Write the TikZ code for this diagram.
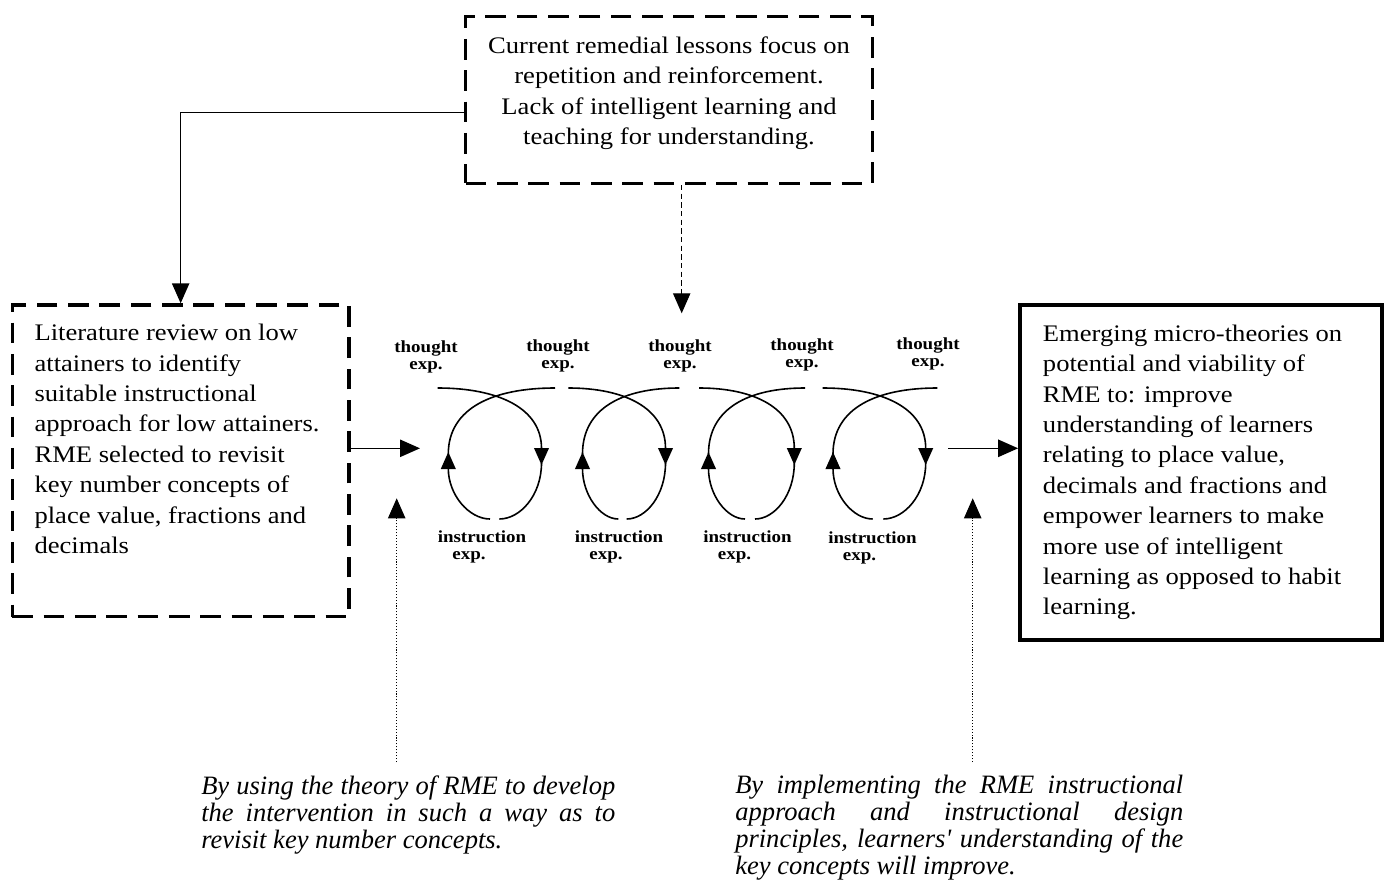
\documentclass[tikz,border=0pt]{standalone}
\usepackage{fontspec}
\setmainfont{Liberation Serif}
\newfontfamily\boxfont{Liberation Serif}[FakeStretch=1.12]
\usetikzlibrary{arrows.meta,fit}
\hyphenpenalty=10000
\exhyphenpenalty=10000
\newcommand\notefont{\itshape\fontsize{19.9pt}{20.25pt}\selectfont\lineskiplimit=-20pt\relax}
\begin{document}
\begin{tikzpicture}[x=0.75pt,y=-0.75pt,
  dbox/.style={draw, line width=2.6pt, dash pattern=on 15.5pt off 8pt, inner sep=0pt},
  sbox/.style={draw, line width=2.8pt, inner sep=0pt},
  boxtext/.style={inner sep=0pt, font=\boxfont\fontsize{17.8pt}{22.8pt}\selectfont},
  lab/.style={inner sep=0pt, align=center, font=\boxfont\bfseries\fontsize{12.7pt}{13.2pt}\selectfont},
  note/.style={inner sep=0pt, align=justify, font=\notefont},
  tip/.style={-{Triangle[length=15pt,width=13pt]}},
  conn/.style={tip, line width=1.1pt},
  loopline/.style={line width=1.2pt},
  looptip/.style={loopline, -{Triangle[length=12.75pt,width=11pt]}},
  dashconn/.style={tip, line width=0.8pt, dash pattern=on 4pt off 2.5pt},
  dotconn/.style={tip, line width=0.8pt, dash pattern=on 0.8pt off 1.4pt},
]
\useasboundingbox (0,0) rectangle (1388,888);

% boxes
\node[dbox, fit={(465.7,16.7) (872.6,183.3)}] (top) {};
\node[boxtext, align=center, anchor=north] (toptext) at (669,36.5)
  {Current remedial lessons focus on\\repetition and reinforcement.\\Lack of intelligent learning and\\teaching for understanding.};

\node[dbox, fit={(12.3,305) (349,616.7)}] (left) {};
\node[boxtext, align=left, anchor=north west] (lefttext) at (34.3,324)
  {Literature review on low\\attainers to identify\\suitable instructional\\approach for low attainers.\\RME selected to revisit\\key number concepts of\\place value, fractions and\\decimals};

\node[sbox, fit={(1020,305) (1381.7,640)}] (right) {};
\node[boxtext, align=left, anchor=north west] (righttext) at (1042.7,324.5)
  {Emerging micro-theories on\\potential and viability of\\RME to: improve\\understanding of learners\\relating to place value,\\decimals and fractions and\\empower learners to make\\more use of intelligent\\learning as opposed to habit\\learning.};

% notes
\node[note, text width=310.5pt, anchor=north west] (note1) at (201,776)
  {By using the theory of RME to develop\linebreak the intervention in such a way as to\linebreak revisit key number concepts.};
\node[note, text width=336pt, anchor=north west] (note2) at (735,775)
  {By implementing the RME instructional\linebreak approach and instructional design\linebreak principles, learners\textquotesingle{} understanding of the\linebreak key concepts will improve.};

% loop labels
\node[lab, anchor=north] (t1) at (426,340) {thought\\exp.};
\node[lab, anchor=north] (t2) at (558,339) {thought\\exp.};
\node[lab, anchor=north] (t3) at (680,339) {thought\\exp.};
\node[lab, anchor=north] (t4) at (802,338) {thought\\exp.};
\node[lab, anchor=north] (t5) at (928,337) {thought\\exp.};
\node[lab, anchor=north] (i1) at (482,530) {instruction\\exp.\rule{19.5pt}{0pt}};
\node[lab, anchor=north] (i2) at (619,530) {instruction\\exp.\rule{19.5pt}{0pt}};
\node[lab, anchor=north] (i3) at (747.5,530) {instruction\\exp.\rule{19.5pt}{0pt}};
\node[lab, anchor=north] (i4) at (872.5,531) {instruction\\exp.\rule{19.5pt}{0pt}};

% loops
\foreach \a/\l/\r/\b/\gl/\gr in {437.7/448.3/541.5/555/490/499.3,
                                  568.3/582.5/665.5/679.3/618.3/626.7,
                                  699/708.5/794.3/805/745/755,
                                  822.7/833/925.7/937.3/872.7/883.3}{
  \draw[looptip] (\a,388) .. controls ({\a+0.58*(\r-\a)},388) and (\r,408) .. (\r,465);
  \draw[loopline] (\r,463) .. controls (\r,495) and ({\gr+0.5*(\r-\gr)},519) .. (\gr,519);
  \draw[looptip] (\gl,519) .. controls ({\gl-0.5*(\gl-\l)},519) and (\l,495) .. (\l,452);
  \draw[loopline] (\l,454) .. controls (\l,408) and ({\b-0.58*(\b-\l)},388) .. (\b,388);
}

% connectors
\coordinate (k1) at (180,112.7);
\draw[conn] (top.west |- k1) -| (left.north);
\coordinate (d1) at (681.7,313.3);
\draw[dashconn] (top.south -| d1) -- (d1);
\coordinate (e1) at (420,448.3);
\draw[conn] (left.east |- e1) -- (e1);
\coordinate (e2) at (948.3,448.3);
\draw[conn] (e2) -- (right.west |- e2);
\coordinate (p1) at (396.7,762);
\coordinate (q1) at (396.7,498.3);
\draw[dotconn] (p1) -- (q1);
\coordinate (p2) at (972.7,762);
\coordinate (q2) at (972.7,498.3);
\draw[dotconn] (p2) -- (q2);
\end{tikzpicture}
\end{document}
